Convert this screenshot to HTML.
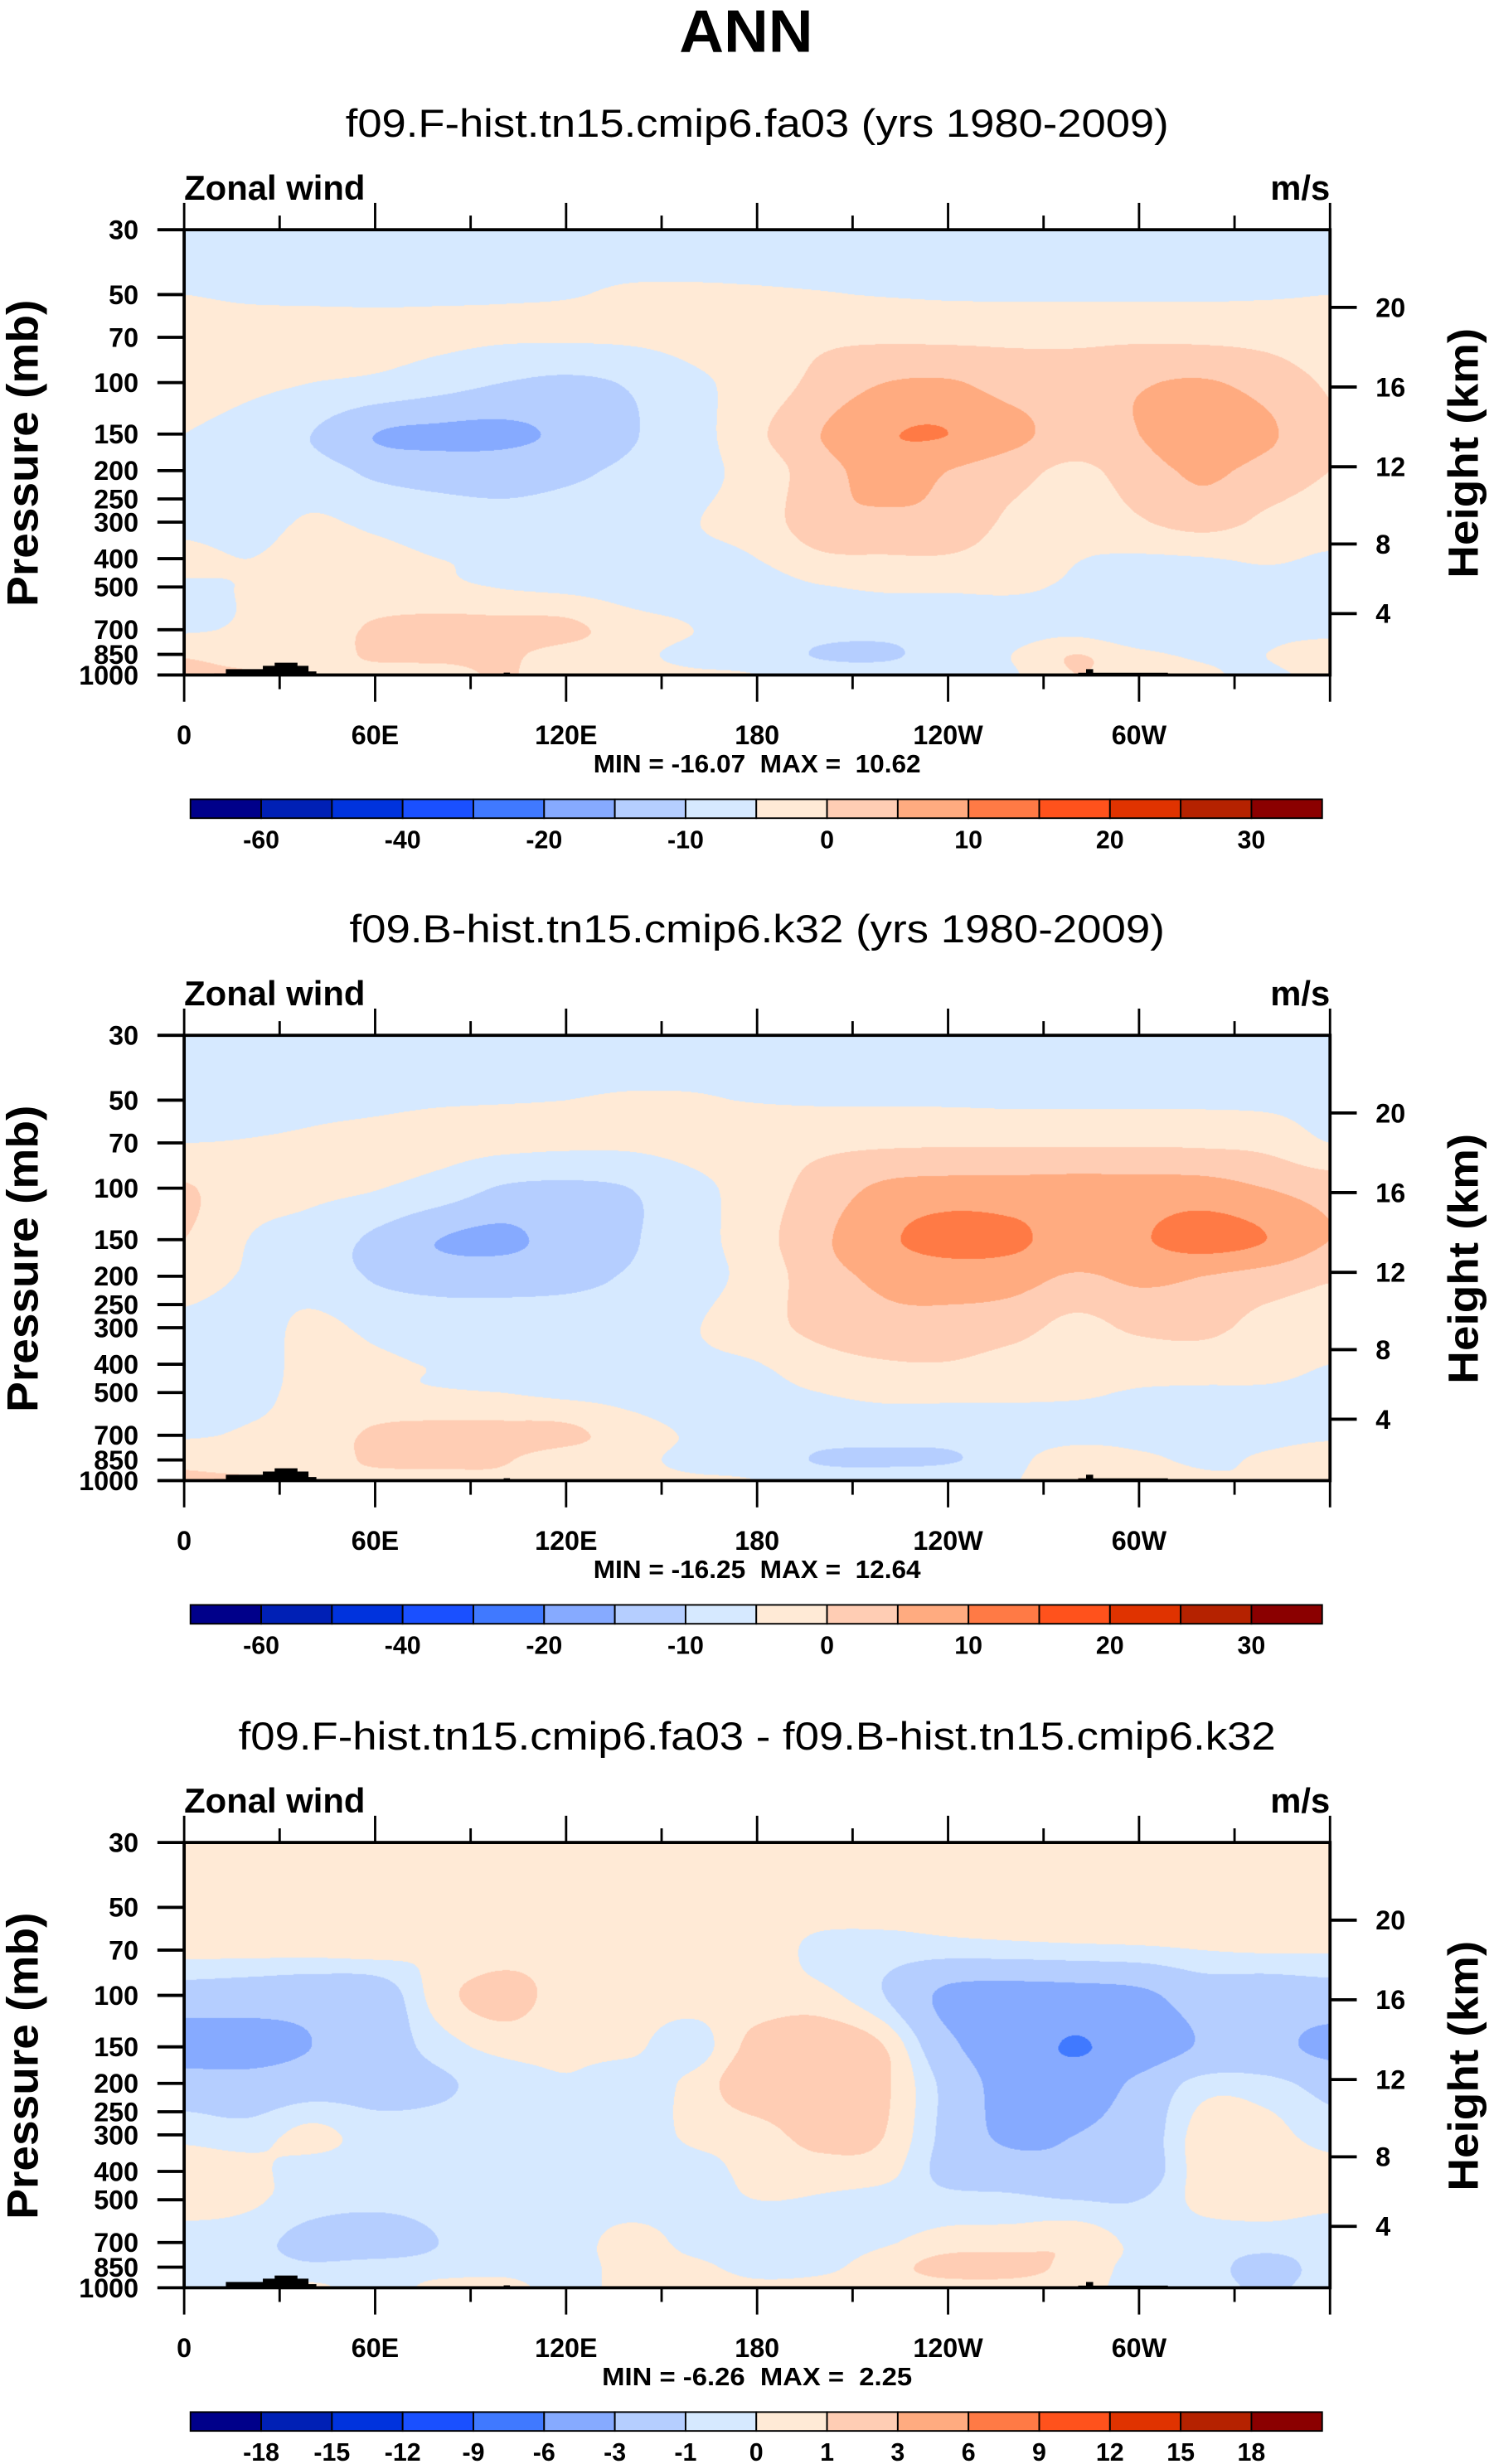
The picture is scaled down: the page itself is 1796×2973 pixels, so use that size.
<!DOCTYPE html>
<html><head><meta charset="utf-8">
<style>
html,body{margin:0;padding:0;background:#fff;width:1796px;height:2973px;overflow:hidden;}
#root{position:absolute;left:0;top:0;width:946px;height:1566px;transform:scale(1.898520,1.898467);transform-origin:0 0;}
canvas{position:absolute;}
svg{position:absolute;left:0;top:0;}
text{font-family:"Liberation Sans",sans-serif;}
</style></head><body>
<div id="root">
<canvas id="c0"></canvas>
<canvas id="c1"></canvas>
<canvas id="c2"></canvas>
<svg id="svg" width="946" height="1566" viewBox="0 0 946 1566">
<text x="474" y="33" text-anchor="middle" font-size="38" font-weight="bold" textLength="85" lengthAdjust="spacingAndGlyphs">ANN</text>
</svg>
</div>
<script>
// ---- data ----
const lons = [0,20,40,60,80,100,120,140,160,180,200,220,240,260,280,300,320,340,360];
const plevs = [30,50,70,100,150,200,300,400,500,700,850,1000];
const uF = [
[-7.5,-7.5,-7.5,-7.5,-7.5,-7.5,-7.5,-7.5,-7.5,-7.5,-7.5,-7.5,-7.5,-7.5,-7.5,-7.5,-7.5,-7.5,-7.5],
[-5,-5.6,-5.8,-5.8,-5.6,-5.4,-5.2,-4.6,-4.5,-4.6,-4.8,-5.2,-5.5,-5.6,-5.6,-5.6,-5.6,-5.4,-5],
[-3,-3,-3,-3.5,-4,-4.5,-4.5,-4.3,-3.5,-2.5,-1,-0.8,-1,-1,-1,-0.8,-1,-1.5,-3],
[-3,-4,-5,-6,-8,-10,-11,-9.5,-6,-3,1.5,5,5.5,3,2.5,4.5,5.5,3,-0.5],
[-5,-7,-10,-15,-16,-16,-14,-10.5,-7,-1,5,9.5,10,6.5,3,5,9,6,0.5],
[-5.5,-9,-8,-11,-12,-12,-11,-9,-6.5,-3,3,7,5,2,-1,2.5,6,3,0],
[-6,-7,-4.5,-6,-7.5,-8.5,-8,-7,-5.2,-3,3.5,4,3.5,-1,-3,-0.5,2,-1,-2.5],
[-4,-5,-3.5,-4,-5,-6,-7,-7,-6,-5,-1,-0.5,-0.5,-2.5,-4.8,-5.5,-5.2,-4.5,-5.5],
[-5.5,-4.8,-3.5,-4,-4,-5.2,-6,-7,-7,-7,-5.3,-4.5,-4.5,-4.5,-5.5,-6.5,-6,-6,-6],
[-5.5,-4.5,-4,1,2,2,1.5,-3,-5,-7,-8,-8,-7.5,-7,-6.5,-9,-7,-6,-6],
[-0.5,-2,-3,1,1.5,1,-2,-4,-6,-7,-10.5,-11,-7,-5,0,-4,-5.5,-5,-3],
[1,0.5,0,-2,-2,0.5,-3,-4,-4.5,-5,-7,-7,-6,-5.5,0,-3,-4.5,-5.5,-4]
];
const uB = [
[-7.5,-7.5,-7.5,-7.5,-7.5,-7.5,-7.5,-7.5,-7.5,-7.5,-7.5,-7.5,-7.5,-7.5,-7.5,-7.5,-7.5,-7.5,-7.5],
[-6.5,-6.5,-6,-5.8,-5.4,-5.2,-5,-4.7,-4.7,-5.2,-5.5,-5.5,-5.6,-5.8,-5.8,-5.8,-5.8,-6,-6.5],
[-5,-4.8,-4.5,-4,-3.5,-3.8,-4.2,-4.2,-3.2,-2,-1.2,-0.8,-0.6,-0.6,-0.6,-0.6,-0.8,-1.5,-5],
[0.5,-3,-4,-4.8,-7,-10.5,-11,-10,-6.5,-2.5,2,6,7,7,7,7,7,5,3],
[0,-5,-7,-11,-15,-16,-13,-10.5,-7,-2,4,9,12,11,8,9.5,12,10,5],
[-3,-5.5,-7,-10.5,-12,-12,-11.5,-9.5,-7,-3,3,6,7,7,4.5,6,5,3,0.5],
[-6,-7,-4,-6,-7,-7.5,-7,-7,-5.3,-2,1.5,3.5,3.5,2,-1.5,1,1.5,-2,-3],
[-6,-6.5,-4,-4.5,-5.3,-6.5,-7,-7,-6,-5.2,-2,-0.5,-0.3,-2,-3,-3,-3,-3.5,-5],
[-6,-6,-4,-4.2,-4.5,-5,-6,-6.5,-7,-6.5,-5,-4,-4,-4.2,-4.5,-5.3,-5.5,-5.5,-6],
[-5.5,-4.5,-3.5,1,2,2,1.5,-3,-5.5,-7,-8,-8,-8,-7.5,-7,-6.5,-6.5,-6,-5.5],
[-1,-2,-3,1,1.5,0.5,-3,-4,-6,-7,-10.5,-11,-10.5,-7,-1,-4,-5.5,-4.5,-3],
[0.5,0.5,0,-2,-2,-1,-3,-4,-4.5,-5,-7,-7,-6,-5.5,0,-3,-4.5,-5,-4]
];
const uD = [
[0.5,0.5,0.5,0.5,0.5,0.5,0.5,0.5,0.5,0.5,0.5,0.5,0.5,0.5,0.5,0.5,0.5,0.5,0.5],
[0.5,0.5,0.5,0.5,0.5,0.5,0.5,0.5,0.5,0.5,0.5,0.5,0.5,0.5,0.5,0.5,0.5,0.5,0.5],
[0.3,0.3,0.3,0.4,0.1,0.5,0.6,0.6,0.6,0.6,-0.3,-0.5,-0.5,-0.4,-0.3,-0.2,0,0.1,0.1],
[-1.8,-2,-2.2,-2,0.5,1.5,0.5,0.5,0.5,0.4,0.3,-1,-3.5,-4,-4,-3.5,-2,-2,-1.8],
[-4,-3.8,-3,-2,-0.5,0.3,0.2,0.2,-0.5,1.5,2,1,-2.5,-4.5,-6.2,-4.5,-2.8,-2.5,-3.5],
[-2,-2.2,-1.8,-1.6,-1.2,-0.5,-0.1,-0.5,0.3,2,2.2,1.2,-1.5,-4,-4.5,-2.5,-0.5,-0.6,-1.5],
[-0.3,-0.5,0.3,-0.5,-0.5,-0.3,-0.6,-0.6,0.2,0.5,1.5,1,-1.5,-3.5,-3,-2,0.5,0.4,-0.5],
[0.5,0.3,-0.5,-0.5,-0.4,-0.3,-0.5,-0.6,-0.4,0.3,0.5,0.4,-1.5,-2,-2.5,-2,0.5,0.5,0.4],
[0.5,0.2,-0.5,-0.6,-0.5,-0.4,-0.5,-0.5,-0.4,0,-0.1,-0.4,-0.6,-0.7,-1,-1,0.3,0.4,0.2],
[-0.5,-0.6,-1.5,-2,-1,-0.5,-0.5,0.4,-0.3,-0.5,-0.4,-0.1,0.4,0.5,0.8,-0.3,-0.5,-0.5,-0.5],
[-0.5,-0.5,-0.8,-0.5,-0.5,-0.3,-0.4,0.3,0.2,-0.3,-0.2,0.5,1.5,1.5,0.6,-0.3,-0.5,-1.5,-0.5],
[-0.5,-0.4,0.2,-0.5,0.3,0.3,-0.3,0.3,0.4,0.2,0.3,0.4,0.5,0.5,0.3,-0.3,-0.5,-1.2,-0.5]
];
const levelsAbs = [-60,-50,-40,-30,-20,-15,-10,-5,0,5,10,15,20,25,30];
const levelsDiff = [-18,-15,-12,-9,-6,-3,-1,0,1,3,6,9,12,15,18];
const cbarLabelsAbs = [-60,-40,-20,-10,0,10,20,30];
const cbarLabelsDiff = [-18,-15,-12,-9,-6,-3,-1,0,1,3,6,9,12,15,18];
const palette = ['#00008a','#0020b5','#0033dd','#1a50ff','#4079ff','#86aaff','#b5ceff','#d6e9ff','#ffead6','#ffcdb4','#ffab80','#ff7a45','#ff521c','#e03300','#b52200','#8b0000'];
const subtitles = ['f09.F-hist.tn15.cmip6.fa03 (yrs 1980-2009)','f09.B-hist.tn15.cmip6.k32 (yrs 1980-2009)','f09.F-hist.tn15.cmip6.fa03 - f09.B-hist.tn15.cmip6.k32'];
const subtitleWidths = [523,518,659];
const minmaxText = ['MIN = -16.07  MAX =  10.62','MIN = -16.25  MAX =  12.64','MIN = -6.26  MAX =  2.25'];
const minmaxWidths = [208,208,197];
const pTicks = [30,50,70,100,150,200,250,300,400,500,700,850,1000];
const hTicks = [20,16,12,8,4];
const hTickP = [55.3,103.5,194.0,356.5,616.6];
const xTickLons = [0,60,120,180,240,300];
const xTickLabels = ['0','60E','120E','180','120W','60W'];

// ---- layout ----
const L=117, R=845, W=R-L, H=283, TOP0=146;
const offs=[0,512,1025];
const NS='http://www.w3.org/2000/svg';
const svg=document.getElementById('svg');
function xOf(lon){return L+lon/360*W;}
function yOf(p,top){return top+Math.log(p/30)/Math.log(1000/30)*H;}
function mk(tag,attrs,parent){const e=document.createElementNS(NS,tag);for(const k in attrs)e.setAttribute(k,attrs[k]);(parent||svg).appendChild(e);return e;}
function colorIdx(v,lev){let i=0;while(i<lev.length&&v>=lev[i])i++;return i;}
function hex(c){return [parseInt(c.substr(1,2),16),parseInt(c.substr(3,2),16),parseInt(c.substr(5,2),16)];}
const pal=palette.map(hex);
function cr(p0,p1,p2,p3,t){return 0.5*((2*p1)+(-p0+p2)*t+(2*p0-5*p1+4*p2-p3)*t*t+(-p0+3*p1-3*p2+p3)*t*t*t);}

function drawField(id,grid,lev,top){
  const S=1.9;
  const cw=Math.round(W*S), ch=Math.round(H*S);
  const c=document.getElementById(id);
  c.width=cw;c.height=ch;
  c.style.left=L+'px';c.style.top=top+'px';c.style.width=W+'px';c.style.height=H+'px';
  const ctx=c.getContext('2d');
  const img=ctx.createImageData(cw,ch);
  const nr=grid.length,nc=lons.length;
  const g=(r,k)=>grid[Math.max(0,Math.min(nr-1,r))][Math.max(0,Math.min(nc-1,k))];
  const lnr=Math.log(1000/30);
  const rowPos=[];
  for(let j=0;j<ch;j++){
    const p=30*Math.exp((j+0.5)/ch*lnr);
    let k=0;while(k<plevs.length-2&&p>plevs[k+1])k++;
    let t=Math.log(p/plevs[k])/Math.log(plevs[k+1]/plevs[k]);
    t=Math.max(0,Math.min(1,t));
    rowPos.push([k,t]);
  }
  for(let j=0;j<ch;j++){
    const [r,tr]=rowPos[j];
    for(let i=0;i<cw;i++){
      const lon=(i+0.5)/cw*360;
      let k=0;while(k<lons.length-2&&lon>lons[k+1])k++;
      const tc=(lon-lons[k])/(lons[k+1]-lons[k]);
      const rv=[];
      for(let dr=-1;dr<=2;dr++){
        rv.push(cr(g(r+dr,k-1),g(r+dr,k),g(r+dr,k+1),g(r+dr,k+2),tc));
      }
      const v=cr(rv[0],rv[1],rv[2],rv[3],tr);
      const col=pal[colorIdx(v,lev)];
      const o=(j*cw+i)*4;
      img.data[o]=col[0];img.data[o+1]=col[1];img.data[o+2]=col[2];img.data[o+3]=255;
    }
  }
  ctx.putImageData(img,0,0);
}

const grids=[uF,uB,uD];
const levs=[levelsAbs,levelsAbs,levelsDiff];
const cbl=[cbarLabelsAbs,cbarLabelsAbs,cbarLabelsDiff];

for(let n=0;n<3;n++){
  const off=offs[n], top=TOP0+off, bot=top+H;
  drawField('c'+n,grids[n],levs[n],top);
  const gp=mk('g',{});
  
  
  const st=mk('text',{x:481,y:87+off,'text-anchor':'middle','font-size':25,textLength:subtitleWidths[n],lengthAdjust:'spacingAndGlyphs'},gp);
  
  
  st.textContent=subtitles[n];
  const zw=mk('text',{x:117,y:127+off,'font-size':22,'font-weight':'bold',textLength:115,lengthAdjust:'spacingAndGlyphs'},gp);
  
  
  zw.textContent='Zonal wind';
  const un=mk('text',{x:845,y:127+off,'font-size':22,'font-weight':'bold','text-anchor':'end'},gp);
  
  
  un.textContent='m/s';
  const ter=mk('path',{fill:'#000',d:
    'M136,'+bot+' V'+(bot-1)+' H143.5 V'+(bot-3.7)+' H167 V'+(bot-5.8)+' H174.5 V'+(bot-7.8)+' H189 V'+(bot-5.8)+' H196 V'+(bot-2.3)+' H201 V'+bot+' Z '+
    'M685,'+bot+' V'+(bot-1.4)+' H690 V'+(bot-3.7)+' H694.5 V'+(bot-1.4)+' H742 V'+bot+' Z M320,'+bot+' V'+(bot-1.5)+' H324 V'+bot+' Z'},gp);
  
  
  const fr=mk('rect',{x:L,y:top,width:W,height:H,fill:'none',stroke:'#000','stroke-width':2},gp);
  
  
  for(const p of pTicks){
    const y=yOf(p,top);
    const tk=mk('line',{x1:L-17,x2:L,y1:y,y2:y,stroke:'#000','stroke-width':2},gp);
    
    
    const tl=mk('text',{x:88,y:y+6,'text-anchor':'end','font-size':17,'font-weight':'bold'},gp);
    
    
    tl.textContent=String(p);
  }
  for(let i=0;i<hTicks.length;i++){
    const y=yOf(hTickP[i],top);
    const tk=mk('line',{x1:R,x2:R+17,y1:y,y2:y,stroke:'#000','stroke-width':2},gp);
    
    
    const tl=mk('text',{x:874,y:y+6,'font-size':17,'font-weight':'bold'},gp);
    
    
    tl.textContent=String(hTicks[i]);
  }
  for(let lon=0;lon<=360;lon+=30){
    const x=xOf(lon), len=(lon%60===0)?17:9;
    const t1=mk('line',{x1:x,x2:x,y1:top-len,y2:top,stroke:'#000','stroke-width':1.5},gp);
    
    
    const t2=mk('line',{x1:x,x2:x,y1:bot,y2:bot+len,stroke:'#000','stroke-width':1.5},gp);
    
    
  }
  for(let i=0;i<xTickLons.length;i++){
    const xl=mk('text',{x:xOf(xTickLons[i]),y:bot+44,'text-anchor':'middle','font-size':17,'font-weight':'bold'},gp);
    
    
    xl.textContent=xTickLabels[i];
  }
  const mm=mk('text',{x:481,y:bot+62,'text-anchor':'middle','font-size':16,'font-weight':'bold',textLength:minmaxWidths[n],lengthAdjust:'spacingAndGlyphs'},gp);
  
  
  mm.setAttribute('xml:space','preserve');
  mm.style.whiteSpace='pre';
  mm.textContent=minmaxText[n];
  const pt=mk('text',{x:0,y:0,'text-anchor':'middle','font-size':28,'font-weight':'bold',textLength:195,lengthAdjust:'spacingAndGlyphs',transform:'translate(24,'+(288+off)+') rotate(-90)'},gp);
  
  
  pt.textContent='Pressure (mb)';
  const ht=mk('text',{x:0,y:0,'text-anchor':'middle','font-size':27,'font-weight':'bold',textLength:159,lengthAdjust:'spacingAndGlyphs',transform:'translate(939,'+(288+off)+') rotate(-90)'},gp);
  
  
  ht.textContent='Height (km)';
  const cb=mk('g',{},gp);
  
  
  const cx0=121, cx1=840, bw=(cx1-cx0)/16, cy=508+off;
  for(let i=0;i<16;i++){
    const b=mk('rect',{x:cx0+i*bw,y:cy,width:bw,height:12,fill:palette[i],stroke:'#000','stroke-width':1},cb);
    
    
  }
  for(const v of cbl[n]){
    const k=levs[n].indexOf(v)+1;
    const lb=mk('text',{x:cx0+k*bw,y:cy+31,'text-anchor':'middle','font-size':16,'font-weight':'bold'},cb);
    
    
    lb.textContent=String(v);
  }
}
</script>
</body></html>
